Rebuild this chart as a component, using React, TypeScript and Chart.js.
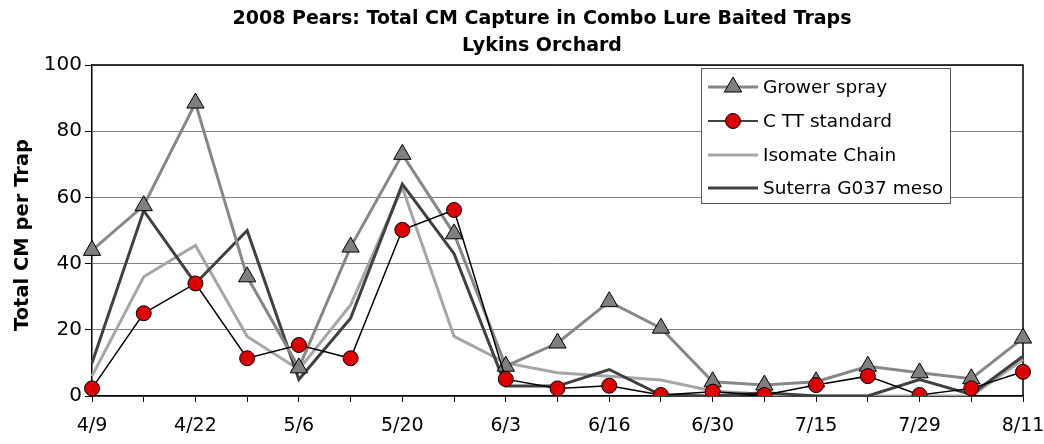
import React, { useEffect, useRef } from 'react';
import { Chart, registerables } from 'chart.js';

Chart.register(...registerables);

const categories = ['4/9', '4/15', '4/22', '4/29', '5/6', '5/13', '5/20', '5/27', '6/3', '6/10', '6/16', '6/23', '6/30', '7/8', '7/15', '7/22', '7/29', '8/5', '8/11'];
const growerSpray = [44, 57.5, 88.5, 36, 8.5, 45, 73, 49, 9, 16, 28.5, 20.5, 4.3, 3.3, 4.3, 9, 7, 5.2, 17.5];
const cttStandard = [2.3, 25, 34, 11.4, 15.4, 11.4, 50.2, 56.2, 5.1, 2.3, 3.1, 0.3, 1.3, 0.3, 3.3, 6, 0.3, 2.3, 7.3];
const isomateChain = [6, 36, 45.5, 18, 8, 27.5, 63, 18, 10, 7, 6, 4.8, 1.5, 0.5, 0, 0, 0, 0, 11];
const suterraG037 = [10, 56, 34, 50, 5, 23.5, 64, 43, 3, 3, 8, 0.3, 0, 1, 0, 0, 5, 0.5, 12];
const yTicks = [0, 20, 40, 60, 80, 100];

const titleLines = ['2008 Pears: Total CM Capture in Combo Lure Baited Traps', 'Lykins Orchard'];
const yTitle = 'Total CM per Trap';
const FONT = '"DejaVu Sans", "Liberation Sans", Arial, sans-serif';

const decorPlugin = {
  id: 'decor',
  beforeDatasetsDraw(chart: any) {
    const { ctx, chartArea } = chart;
    ctx.save();
    ctx.strokeStyle = '#000';
    ctx.lineWidth = 1.5;
    ctx.beginPath();
    ctx.moveTo(chartArea.left, chartArea.top);
    ctx.lineTo(chartArea.right, chartArea.top);
    ctx.lineTo(chartArea.right, chartArea.bottom);
    ctx.stroke();
    ctx.restore();
  },
  afterDraw(chart: any) {
    const { ctx } = chart;
    ctx.save();
    // Title
    ctx.fillStyle = '#000';
    ctx.textAlign = 'center';
    ctx.textBaseline = 'middle';
    ctx.font = `bold 19px ${FONT}`;
    ctx.fillText(titleLines[0], 542, 19);
    ctx.fillText(titleLines[1], 542, 46);
    // Y title
    ctx.save();
    ctx.translate(23, 235);
    ctx.rotate(-Math.PI / 2);
    ctx.font = `bold 19.5px ${FONT}`;
    ctx.fillText(yTitle, 0, 0);
    ctx.restore();

    // Legend
    const bx = 701, by = 68, bw = 249, bh = 135;
    ctx.fillStyle = '#fff';
    ctx.fillRect(bx, by, bw, bh);
    ctx.strokeStyle = '#555';
    ctx.lineWidth = 1;
    ctx.strokeRect(bx + 0.5, by + 0.5, bw, bh);
    const rows = [87, 121, 155, 188];
    chart.data.datasets.forEach((ds: any, i: number) => {
      const y = rows[i];
      ctx.strokeStyle = ds.borderColor;
      ctx.lineWidth = ds.borderWidth;
      ctx.beginPath();
      ctx.moveTo(708, y);
      ctx.lineTo(758, y);
      ctx.stroke();
      if (ds.pointRadius > 0) {
        ctx.fillStyle = ds.pointBackgroundColor;
        ctx.strokeStyle = ds.pointBorderColor;
        ctx.lineWidth = ds.pointBorderWidth;
        ctx.beginPath();
        if (ds.pointStyle === 'triangle') {
          const r = ds.pointRadius;
          ctx.moveTo(733, y - r);
          ctx.lineTo(733 + r * Math.sin(Math.PI / 3), y + r / 2);
          ctx.lineTo(733 - r * Math.sin(Math.PI / 3), y + r / 2);
          ctx.closePath();
        } else {
          ctx.arc(733, y, ds.pointRadius, 0, Math.PI * 2);
        }
        ctx.fill();
        ctx.stroke();
      }
      ctx.fillStyle = '#000';
      ctx.textAlign = 'left';
      ctx.textBaseline = 'middle';
      ctx.font = `18.5px ${FONT}`;
      ctx.fillText(ds.label, 763, y + 1);
    });
    ctx.restore();
  },
};

export default function App() {
  const ref = useRef<HTMLCanvasElement | null>(null);
  useEffect(() => {
    if (!ref.current) return;
    const chart = new Chart(ref.current, {
      type: 'line',
      data: {
        labels: categories,
        datasets: [
          {
            label: 'Grower spray',
            data: growerSpray,
            borderColor: '#878787',
            borderWidth: 3,
            pointStyle: 'triangle',
            pointRadius: 10,
            pointBackgroundColor: '#7f7f7f',
            pointBorderColor: '#000',
            pointBorderWidth: 1,
            order: 1,
          },
          {
            label: 'C TT standard',
            data: cttStandard,
            borderColor: '#000',
            borderWidth: 1.5,
            pointStyle: 'circle',
            pointRadius: 7.5,
            pointBackgroundColor: '#dd0000',
            pointBorderColor: '#000',
            pointBorderWidth: 1,
            order: 0,
          },
          {
            label: 'Isomate Chain',
            data: isomateChain,
            borderColor: '#a6a6a6',
            borderWidth: 3,
            pointRadius: 0,
            order: 3,
          },
          {
            label: 'Suterra G037 meso',
            data: suterraG037,
            borderColor: '#404040',
            borderWidth: 3,
            pointRadius: 0,
            order: 2,
          },
        ],
      },
      options: {
        responsive: false,
        animation: false,
        devicePixelRatio: 1,
        layout: { padding: { top: 65, right: 21, left: 0, bottom: 0 } },
        plugins: {
          legend: { display: false },
          title: { display: false },
          tooltip: { enabled: false },
        },
        elements: { line: { tension: 0 } },
        scales: {
          x: {
            offset: false,
            grid: { drawOnChartArea: false, drawTicks: true, tickLength: 6, tickColor: '#000', tickWidth: 1 },
            border: { color: '#000', width: 1.5 },
            ticks: {
              autoSkip: false,
              maxRotation: 0,
              minRotation: 0,
              padding: 13,
              color: '#000',
              font: { family: FONT, size: 19 },
              callback: (_v: any, i: number) => (i % 2 === 0 ? categories[i] : ''),
            },
            afterFit: (s: any) => { s.height = 48; s.paddingLeft = 0; s.paddingRight = 0; },
          },
          y: {
            min: 0,
            max: 100,
            afterBuildTicks: (s: any) => { s.ticks = yTicks.map((v) => ({ value: v })); },
            grid: { color: '#808080', lineWidth: 1, drawTicks: true, tickLength: 7, tickColor: '#000' },
            border: { color: '#000', width: 1.5 },
            ticks: {
              padding: 3,
              color: '#000',
              font: { family: FONT, size: 20 },
            },
            afterFit: (s: any) => { s.width = 92; s.paddingTop = 0; s.paddingBottom = 0; },
          },
        },
      },
      plugins: [decorPlugin],
    });
    return () => chart.destroy();
  }, []);
  return (
    <div style={{ position: 'fixed', left: 0, top: 0, width: 1044, height: 444, background: '#fff' }}>
      <canvas ref={ref} width={1044} height={444} />
    </div>
  );
}
